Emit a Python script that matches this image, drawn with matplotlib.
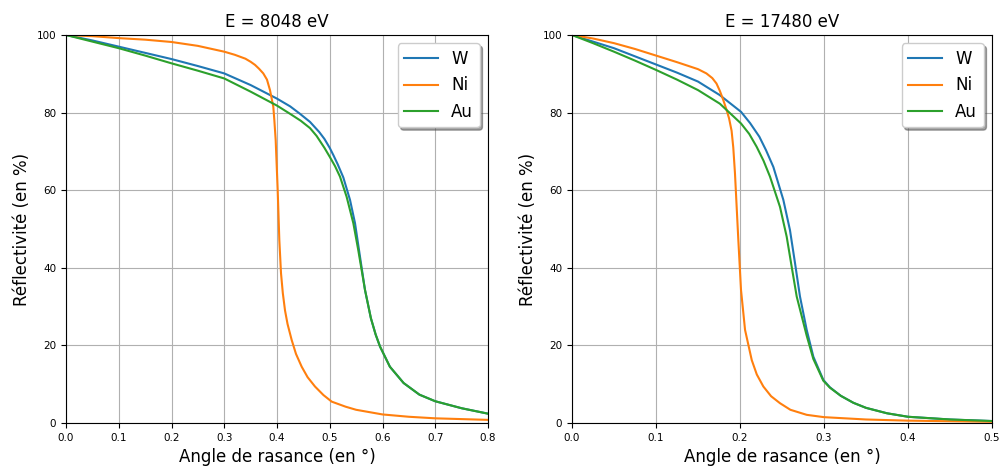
import matplotlib
matplotlib.use("Agg")
import matplotlib.pyplot as plt

# E = 8048 eV
x_w_1 = [0.0, 0.05, 0.1, 0.15, 0.2, 0.25, 0.3, 0.35, 0.4, 0.425, 0.4425, 0.4626, 0.48, 0.49, 0.5,
         0.507, 0.515, 0.5257, 0.5384, 0.5479, 0.5573, 0.5668, 0.578, 0.587, 0.5953, 0.614, 0.64,
         0.67, 0.7, 0.75, 0.8]
r_w_1 = [100, 98.6, 97.0, 95.4, 93.8, 92.0, 90.1, 87.1, 83.6, 81.6, 79.8, 77.6, 75.0, 73.2, 70.9,
         69.0, 66.7, 63.3, 57.5, 51.5, 42.9, 34.3, 27.0, 22.8, 19.7, 14.5, 10.3,
         7.3, 5.6, 3.8, 2.4]
x_au_1 = [0.0, 0.05, 0.1, 0.15, 0.2, 0.25, 0.3, 0.35, 0.4, 0.4246, 0.445, 0.4626, 0.475, 0.49, 0.5,
          0.51, 0.5194, 0.532, 0.5447, 0.554, 0.5668, 0.578, 0.587, 0.5953, 0.614, 0.64, 0.67,
          0.7, 0.75, 0.8]
r_au_1 = [100, 98.3, 96.6, 94.7, 92.7, 90.8, 88.8, 85.4, 81.8, 79.7, 77.9, 76.0, 74.0, 70.9, 68.6,
          66.2, 63.5, 58.3, 51.5, 44.6, 34.3, 27.0, 22.8, 19.7, 14.5, 10.3, 7.3,
          5.6, 3.8, 2.4]
x_ni_1 = [0.0, 0.05, 0.1, 0.15, 0.2, 0.25, 0.3, 0.32, 0.34, 0.35, 0.3583, 0.366, 0.374, 0.381,
          0.3867, 0.393, 0.395, 0.3975, 0.4013, 0.4044, 0.4076, 0.411, 0.4152, 0.42, 0.4278, 0.436,
          0.4468, 0.458, 0.472, 0.488, 0.5037, 0.53, 0.55, 0.6, 0.65, 0.7, 0.75, 0.8]
r_ni_1 = [100, 99.7, 99.2, 98.8, 98.2, 97.2, 95.7, 94.9, 93.9, 93.1, 92.3, 91.3, 90.1, 88.5,
          85.8, 81.5, 78.0, 72.9, 60.0, 47.2, 38.6, 33.5, 29.0, 25.5, 21.4, 17.8,
          14.5, 11.8, 9.4, 7.2, 5.5, 4.2, 3.4, 2.2, 1.6, 1.2, 1.0, 0.8]

# E = 17480 eV
x_w_2 = [0.0, 0.025, 0.05, 0.075, 0.1, 0.125, 0.15, 0.176, 0.2012, 0.212, 0.223, 0.231, 0.2397,
         0.2516, 0.2595, 0.2655, 0.2714, 0.2794, 0.2873, 0.2992, 0.307, 0.32, 0.335, 0.35, 0.375,
         0.4, 0.45, 0.5]
r_w_2 = [100, 98.3, 96.6, 94.5, 92.4, 90.3, 88.0, 84.5, 80.2, 77.3, 73.8, 70.3, 66.0,
         57.5, 49.7, 41.2, 32.6, 24.0, 17.1, 11.1, 9.2, 7.0, 5.2, 3.9, 2.5,
         1.6, 0.9, 0.5]
x_au_2 = [0.0, 0.025, 0.05, 0.075, 0.1, 0.125, 0.15, 0.176, 0.2012, 0.211, 0.2198, 0.228, 0.2357,
          0.2476, 0.2556, 0.2615, 0.2675, 0.2794, 0.2873, 0.2992, 0.307, 0.32, 0.335, 0.35, 0.375,
          0.4, 0.45, 0.5]
r_au_2 = [100, 97.9, 95.7, 93.4, 91.0, 88.5, 85.8, 82.3, 77.2, 74.5, 71.2, 67.6, 63.5,
          55.7, 48.0, 40.3, 32.6, 22.5, 16.5, 10.9, 9.1, 7.0, 5.2, 3.9, 2.5,
          1.6, 0.9, 0.5]
x_ni_2 = [0.0, 0.025, 0.05, 0.075, 0.1, 0.125, 0.15, 0.16, 0.167, 0.172, 0.176, 0.18, 0.184,
          0.187, 0.19, 0.192, 0.194, 0.198, 0.2012, 0.206, 0.214, 0.22, 0.2278, 0.237, 0.2476,
          0.26, 0.2794, 0.3, 0.35, 0.4, 0.5]
r_ni_2 = [100, 99.1, 97.9, 96.4, 94.7, 93.0, 91.2, 90.1, 88.9, 87.5, 85.6, 83.3, 80.7,
          78.5, 75.3, 71.0, 64.4, 47.2, 34.3, 24.0, 16.2, 12.5, 9.4, 6.9, 5.1,
          3.4, 2.1, 1.5, 0.9, 0.6, 0.3]

fig = plt.figure(figsize=(10, 4.68), dpi=100)
ax1 = fig.add_axes([0.066, 0.0962, 0.422, 0.829])
ax2 = fig.add_axes([0.572, 0.0962, 0.420, 0.829])

panels = [
    (ax1, "E = 8048 eV", 0.8, [(x_w_1, r_w_1, "W"), (x_ni_1, r_ni_1, "Ni"), (x_au_1, r_au_1, "Au")]),
    (ax2, "E = 17480 eV", 0.5, [(x_w_2, r_w_2, "W"), (x_ni_2, r_ni_2, "Ni"), (x_au_2, r_au_2, "Au")]),
]

for ax, titre, xmax, courbes in panels:
    for xs, rs, nom in courbes:
        ax.plot(xs, rs, label=nom, linewidth=1.5)
    ax.set_xlim(0, xmax)
    ax.set_ylim(0, 100)
    ax.grid(True)
    ax.set_title(titre, fontsize=12)
    ax.set_xlabel("Angle de rasance (en °)", fontsize=12)
    ax.set_ylabel("Réflectivité (en %)", fontsize=12)
    ax.tick_params(labelsize=7.5)
    ax.legend(loc="upper right", fontsize=12, shadow=True)

fig.savefig("out.png", dpi=100)
